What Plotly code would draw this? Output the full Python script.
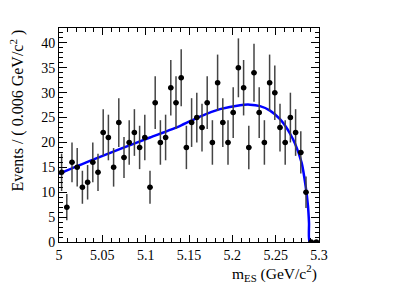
import math
import plotly.graph_objects as go

# ---- data ----
bin_centers = [5.003, 5.009, 5.015, 5.021, 5.027, 5.033, 5.039, 5.045, 5.051, 5.057,
               5.063, 5.069, 5.075, 5.081, 5.087, 5.093, 5.099, 5.105, 5.111, 5.117,
               5.123, 5.129, 5.135, 5.141, 5.147, 5.153, 5.159, 5.165, 5.171, 5.177,
               5.183, 5.189, 5.195, 5.201, 5.207, 5.213, 5.219, 5.225, 5.231, 5.237,
               5.243, 5.249, 5.255, 5.261, 5.267, 5.273, 5.279, 5.285, 5.291, 5.297]
counts = [14, 7, 16, 15, 11, 12, 16, 14, 22, 21,
          15, 24, 17, 20, 22, 19, 21, 11, 28, 20,
          21, 31, 28, 33, 19, 24, 25, 23, 28, 20,
          32, 24, 20, 26, 35, 31, 19, 34, 26, 20,
          32, 30, 23, 20, 25, 22, 18, 10, 0, 0]
bin_half_width = 0.003

# fitted curve
fit_x = [5.000, 5.035, 5.0715, 5.105, 5.1393, 5.1627, 5.1858, 5.2089, 5.2204,
         5.2319, 5.2435, 5.2550, 5.2608, 5.2665, 5.2723, 5.2800, 5.2846, 5.2873,
         5.2885, 5.2893, 5.3000]
fit_y = [13.7, 16.25, 18.75, 21.0, 23.3, 25.2, 26.7, 27.5, 27.6,
         27.3, 26.4, 24.7, 23.4, 21.8, 19.8, 15.9, 11.2, 7.2,
         3.8, 0.0, 0.0]

x_ticks = [5.0, 5.05, 5.1, 5.15, 5.2, 5.25, 5.3]
x_tick_text = ["5", "5.05", "5.1", "5.15", "5.2", "5.25", "5.3"]
y_ticks = [0, 5, 10, 15, 20, 25, 30, 35, 40]

errors = [math.sqrt(c) for c in counts]

FONT = "Liberation Serif"

fig = go.Figure()
fig.add_trace(go.Scatter(
    x=fit_x, y=fit_y, mode="lines",
    line=dict(color="#0000ff", width=2.5, shape="spline", smoothing=0.6),
    hoverinfo="skip", showlegend=False,
))
fig.add_trace(go.Scatter(
    x=bin_centers, y=counts, mode="markers",
    marker=dict(color="black", size=5.5, symbol="circle"),
    error_y=dict(type="data", array=errors, visible=True, color="#444444",
                 thickness=1.5, width=0),
    error_x=dict(type="constant", value=bin_half_width, visible=True,
                 color="black", thickness=1.5, width=0),
    showlegend=False,
))

fig.update_layout(
    width=399, height=286,
    margin=dict(l=59, r=80, t=28, b=44),
    paper_bgcolor="white", plot_bgcolor="white",
    font=dict(family=FONT, size=14, color="black"),
    xaxis=dict(
        range=[5.0, 5.3], tickvals=x_ticks, ticktext=x_tick_text,
        showgrid=False, zeroline=False,
        showline=True, linecolor="black", linewidth=1, mirror="ticks",
        ticks="inside", ticklen=7, tickwidth=1, tickcolor="black",
        minor=dict(ticks="inside", dtick=0.01, ticklen=4, tickcolor="black",
                   showgrid=False),
        tickfont=dict(family=FONT, size=14),
    ),
    yaxis=dict(
        range=[0, 43], tickvals=y_ticks,
        showgrid=False, zeroline=False,
        showline=True, linecolor="black", linewidth=1, mirror="ticks",
        ticks="inside", ticklen=8, tickwidth=1, tickcolor="black",
        minor=dict(ticks="inside", dtick=1, ticklen=4, tickcolor="black",
                   showgrid=False),
        tickfont=dict(family=FONT, size=14),
    ),
    annotations=[
        dict(text="Events / ( 0.006 GeV/c<sup>2</sup> )", xref="paper", yref="paper",
             x=-0.163, y=1.0, xanchor="center", yanchor="top", textangle=-90,
             showarrow=False, font=dict(family=FONT, size=16)),
        dict(text="m<sub>ES</sub> (GeV/c<sup>2</sup>)", xref="paper", yref="paper",
             x=1.0, y=-0.145, xanchor="right", yanchor="middle",
             showarrow=False, font=dict(family=FONT, size=15.5)),
    ],
)

fig.write_html("out.html", config={"displayModeBar": False},
               post_script="document.body.style.margin='0';")
